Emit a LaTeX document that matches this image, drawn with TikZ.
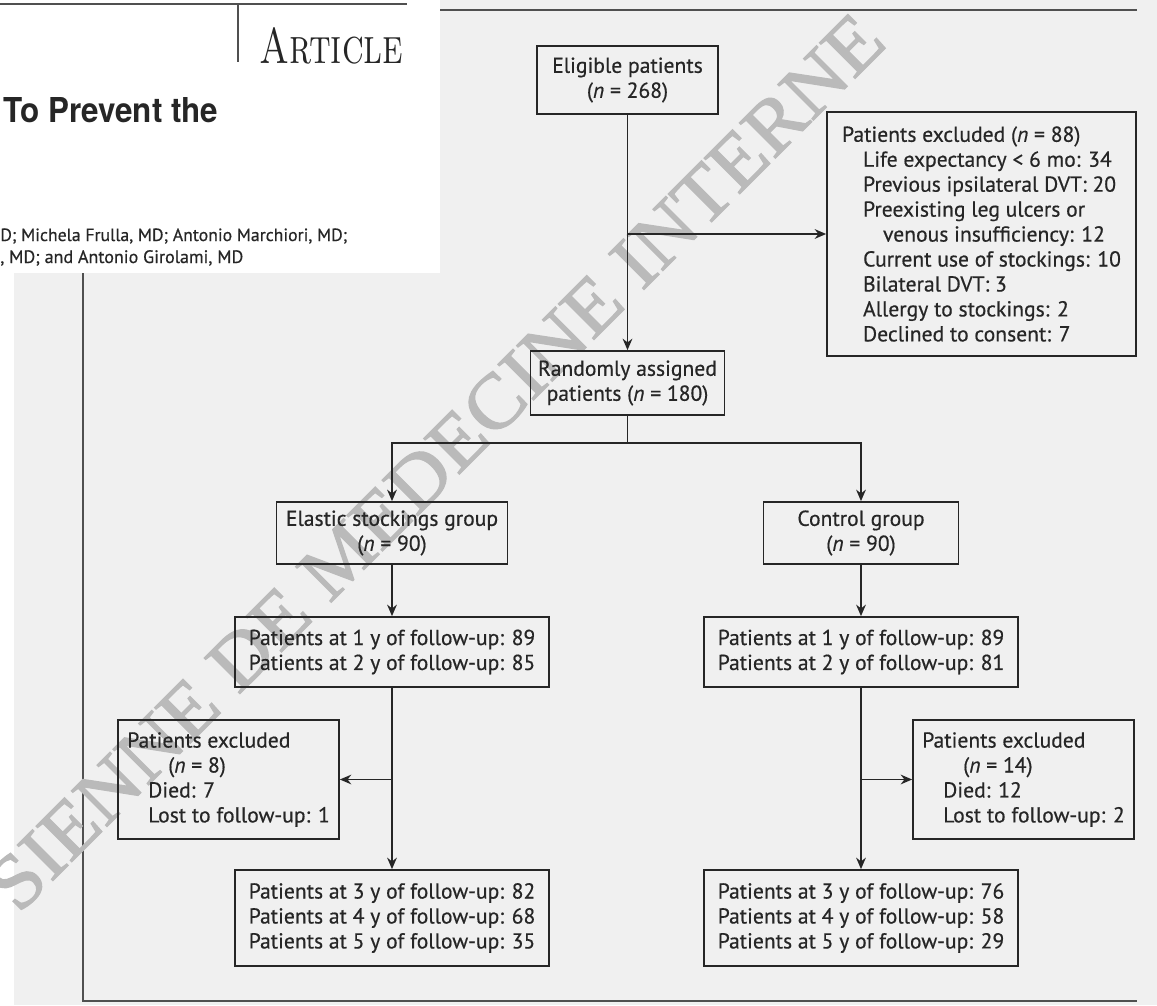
\documentclass[tikz,border=0pt]{standalone}
\usepackage{fontspec}
\newfontfamily\flowfamily{PT Sans}[FakeBold=0.5]
\newfontfamily\stampfamily{Liberation Serif}[FakeBold=1.6]
\newfontfamily\headfamily{TeX Gyre Heros}
\usetikzlibrary{arrows.meta}

\definecolor{panelgray}{HTML}{F0F0F0}
\definecolor{inkgray}{HTML}{262626}
\definecolor{rulegray}{HTML}{505050}
\definecolor{stampgray}{HTML}{BABABA}

\newcommand{\flowfont}{\flowfamily\fontsize{12.3}{14.2}\selectfont}
\newcommand{\tabin}{\hspace*{0.42cm}}
\newcommand{\tabinn}{\hspace*{0.82cm}}

\tikzset{
  flowbox/.style={draw=inkgray, line width=1pt, text=inkgray, font=\flowfont, inner sep=0pt},
  midbox/.style={flowbox, align=center},
  listbox/.style={flowbox, align=left},
  link/.style={draw=inkgray, line width=1pt},
}

\begin{document}
\begin{tikzpicture}[x=0.02cm, y=-0.02cm, >={Stealth[length=6.5pt, width=5.5pt]}]
	\useasboundingbox (0,0) rectangle (1157,1005);

	% page background and panel
	\fill[white] (0,0) rectangle (1157,1005);
	\fill[panelgray] (14,0) rectangle (1157,1005);
	\draw[rulegray, line width=1.1pt] (83,10) -- (1137,10);
	\draw[rulegray, line width=1.1pt] (83,10) -- (83,1001) -- (1137,1001);

	% watermark
	\node[rotate=45, text=stampgray] (stamp) at (436,462)
		{\resizebox{24.6cm}{1.02cm}{\stampfamily SIENNE DE MEDECINE INTERNE}};

	% article header
	\fill[white] (0,0) rectangle (440,273);
	\draw[rulegray, line width=1pt] (0,4) -- (407,4);
	\draw[rulegray, line width=1pt] (238,4) -- (238,62);
	\node[anchor=base west, inner sep=0pt, text=inkgray] (kind) at (259,63)
		{\resizebox{2.88cm}{0.72cm}{\rmfamily\textsc{Article}}};
	\node[anchor=base west, inner sep=0pt, text=inkgray] (title) at (3,122)
		{\resizebox{4.3cm}{0.5cm}{\headfamily\bfseries To Prevent the}};
	\node[anchor=base west, inner sep=0pt, text=inkgray] (authors1) at (0,241)
		{\resizebox{6.94cm}{!}{\flowfamily D; Michela Frulla, MD; Antonio Marchiori, MD;}};
	\node[anchor=base west, inner sep=0pt, text=inkgray] (authors2) at (0,263)
		{\resizebox{4.86cm}{!}{\flowfamily , MD; and Antonio Girolami, MD}};

	% flow chart
	\node[midbox, minimum width=3.62cm, minimum height=1.36cm] (elig) at (627.5,80)
		{Eligible patients\\(\textit{n} = 268)};
	\node[listbox, minimum width=6.18cm, minimum height=4.88cm] (excl) at (981.5,234)
		{Patients excluded (\textit{n} = 88)\\
		\tabin Life expectancy < 6 mo: 34\\
		\tabin Previous ipsilateral DVT: 20\\
		\tabin Preexisting leg ulcers or\\
		\tabinn venous insufficiency: 12\\
		\tabin Current use of stockings: 10\\
		\tabin Bilateral DVT: 3\\
		\tabin Allergy to stockings: 2\\
		\tabin Declined to consent: 7};
	\node[midbox, minimum width=3.88cm, minimum height=1.28cm] (rand) at (627.5,383)
		{Randomly assigned\\patients (\textit{n} = 180)};
	\coordinate (split) at (627.5,443);

	\node[midbox, minimum width=4.62cm, minimum height=1.24cm] (elastic) at (392,533)
		{Elastic stockings group\\(\textit{n} = 90)};
	\node[midbox, minimum width=3.9cm, minimum height=1.24cm] (control) at (861,533)
		{Control group\\(\textit{n} = 90)};

	\node[listbox, minimum width=6.28cm, minimum height=1.4cm] (elfu) at (392,652)
		{Patients at 1 y of follow-up: 89\\Patients at 2 y of follow-up: 85};
	\node[listbox, minimum width=6.28cm, minimum height=1.4cm] (cofu) at (861,652)
		{Patients at 1 y of follow-up: 89\\Patients at 2 y of follow-up: 81};

	\node[listbox, minimum width=4.42cm, minimum height=2.38cm] (elout) at (228.5,779.5)
		{Patients excluded\\\tabinn(\textit{n} = 8)\\\tabin Died: 7\\\tabin Lost to follow-up: 1};
	\node[listbox, minimum width=4.42cm, minimum height=2.38cm] (coout) at (1023.5,779.5)
		{Patients excluded\\\tabinn(\textit{n} = 14)\\\tabin Died: 12\\\tabin Lost to follow-up: 2};

	\node[listbox, minimum width=6.28cm, minimum height=1.92cm] (elend) at (392,918)
		{Patients at 3 y of follow-up: 82\\Patients at 4 y of follow-up: 68\\Patients at 5 y of follow-up: 35};
	\node[listbox, minimum width=6.28cm, minimum height=1.92cm] (coend) at (861,918)
		{Patients at 3 y of follow-up: 76\\Patients at 4 y of follow-up: 58\\Patients at 5 y of follow-up: 29};

	% connectors
	\draw[link, ->] (elig) -- (rand);
	\draw[link, ->] (elig.south |- excl.west) -- (excl.west);
	\draw[link] (rand) -- (split);
	\draw[link, ->] (split) -| (elastic);
	\draw[link, ->] (split) -| (control);
	\draw[link, ->] (elastic) -- (elfu);
	\draw[link, ->] (control) -- (cofu);
	\draw[link, ->] (elfu) -- (elend);
	\draw[link, ->] (cofu) -- (coend);
	\draw[link, ->] (elfu.south |- elout.east) -- (elout.east);
	\draw[link, ->] (cofu.south |- coout.west) -- (coout.west);
\end{tikzpicture}
\end{document}
